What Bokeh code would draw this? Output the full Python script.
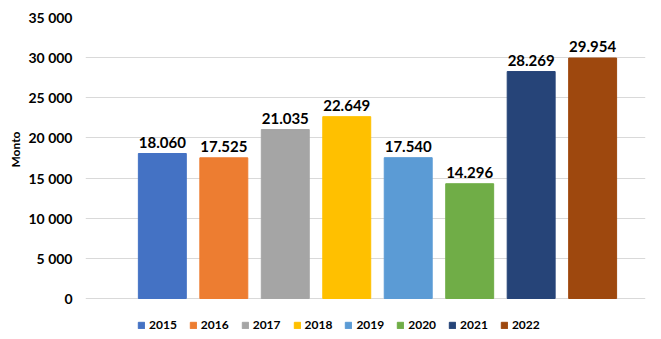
from bokeh.plotting import figure
from bokeh.models import ColumnDataSource, Range1d, CustomJSTickFormatter, Legend, LegendItem, FixedTicker, Title
from bokeh.core.properties import value
from bokeh.embed import file_html
from bokeh.resources import INLINE

years = ["2015", "2016", "2017", "2018", "2019", "2020", "2021", "2022"]
values = [18060, 17525, 21035, 22649, 17540, 14296, 28269, 29954]
colors = ["#4472C4", "#ED7D31", "#A5A5A5", "#FFC000", "#5B9BD5", "#70AD47", "#264478", "#9E480E"]
y_ticks = [0, 5000, 10000, 15000, 20000, 25000, 30000, 35000]

FONT = "Lato"

labels = [f"{v:,}".replace(",", ".") for v in values]
xs = list(range(len(years)))
src = ColumnDataSource(dict(x=xs, year=years, value=values, color=colors, label=labels))

# frame: top at 17 px (35 000), value 0 at 298 px, frame extends to bottom of page for legend
units_per_px = 35000 / 281.0
y_start = -41 * units_per_px

p = figure(width=661, height=339, output_backend="svg", toolbar_location=None,
           x_range=Range1d(-1.25, 7.86), y_range=Range1d(y_start, 35000),
           min_border_left=85, min_border_right=16, min_border_top=17, min_border_bottom=0)
p.outline_line_color = None
p.xaxis.visible = False
p.xgrid.grid_line_color = None
p.ygrid.grid_line_color = "#d9d9d9"
p.ygrid.grid_line_width = 1

r = p.vbar(x="x", top="value", width=0.78, color="color", source=src)
p.text(x="x", y="value", text="label", source=src, text_align="center", text_baseline="bottom",
       y_offset=-6, text_font_size="15px", text_font_style="bold", text_color="#000000",
       text_font=value(FONT))

ax = p.yaxis[0]
ax.ticker = FixedTicker(ticks=y_ticks)
ax.formatter = CustomJSTickFormatter(code="""
return tick.toFixed(0).replace(/\\B(?=(\\d{3})+(?!\\d))/g, ' ');
""")
ax.axis_line_color = None
ax.major_tick_line_color = None
ax.minor_tick_line_color = None
ax.major_tick_out = 0
ax.major_label_standoff = 13
ax.major_label_text_font = FONT
ax.major_label_text_font_style = "bold"
ax.major_label_text_font_size = "14px"
ax.major_label_text_color = "#000000"

ytitle = Title(text="Monto", align="right", offset=114, text_font=FONT, text_font_style="bold",
               text_font_size="12px", text_color="#000000", standoff=5)
p.add_layout(ytitle, "left")

items = [LegendItem(label=y, renderers=[r], index=i) for i, y in enumerate(years)]
legend = Legend(items=items, orientation="horizontal", location=(52, 7),
                label_text_font=FONT, label_text_font_style="bold", label_text_font_size="12px",
                label_text_color="#000000", glyph_width=8, glyph_height=8, label_standoff=4,
                spacing=12, padding=0, margin=0, border_line_color=None, background_fill_alpha=0,
                label_height=12)
p.add_layout(legend, "center")

open("out.html", "w").write(file_html(p, INLINE))
